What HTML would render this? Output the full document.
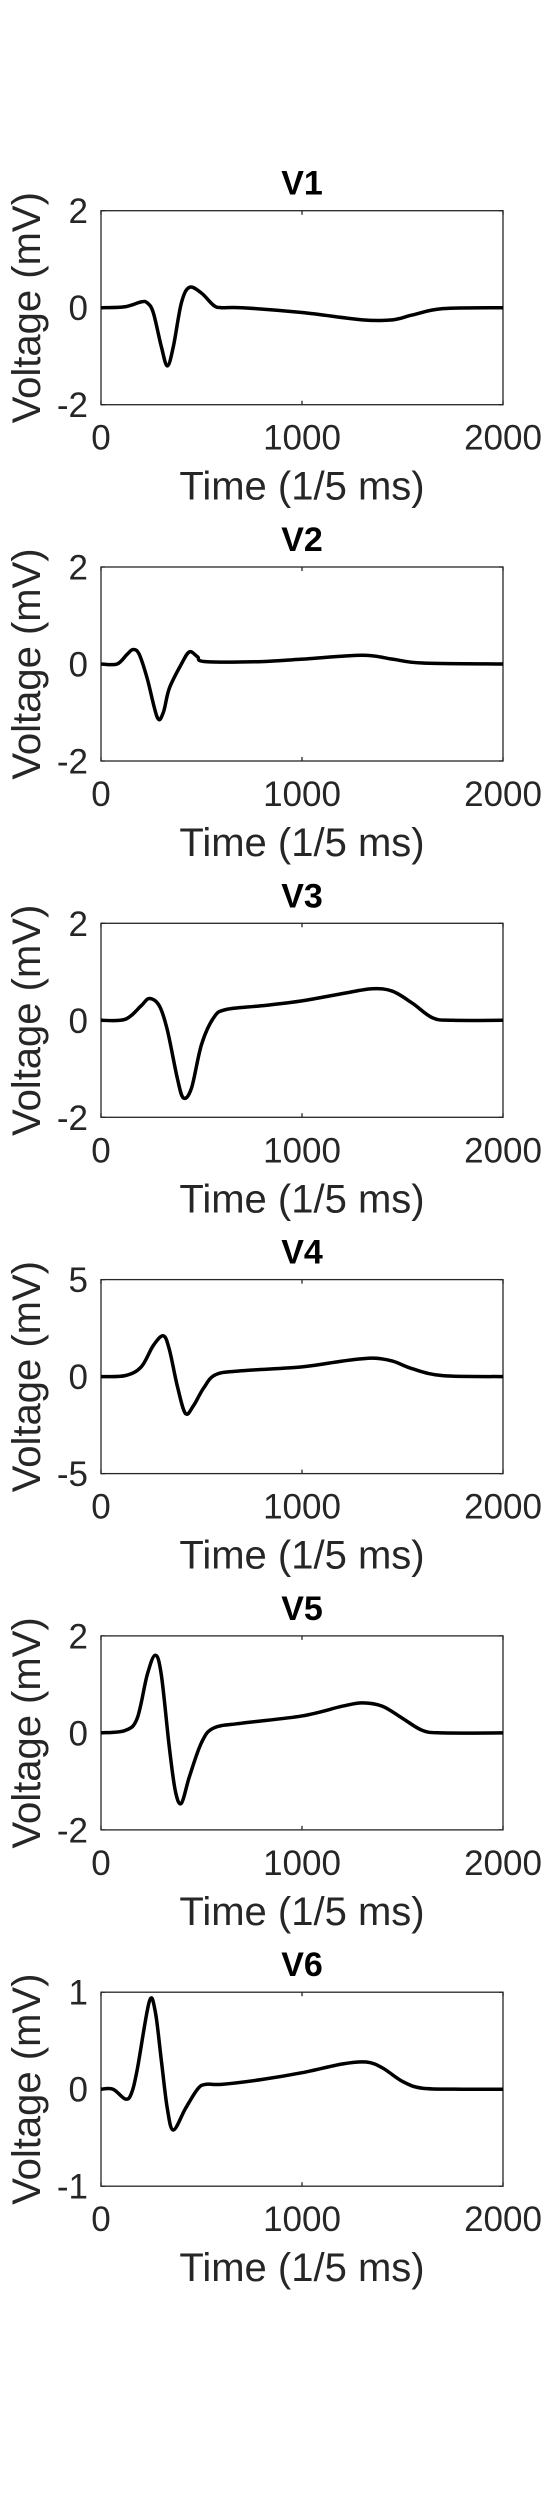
<!DOCTYPE html>
<html><head><meta charset="utf-8"><style>
html,body{margin:0;padding:0;background:#fff;}
svg{display:block;}
text{font-family:"Liberation Sans",sans-serif;fill:#262626;}
</style></head><body>
<svg id="fig" width="556" height="2502" viewBox="0 0 556 2502" xmlns="http://www.w3.org/2000/svg"></svg>
<script>
const leads = ["V1","V2","V3","V4","V5","V6"];
const yLimits = [2,2,2,5,2,1];
const xTicks = [0,1000,2000];
const v1x = [0,120,200,230,260,300,330,360,400,440,500,560,600,700,1000,1300,1450,1550,1700,2000];
const v1y = [0,0.02,0.12,0.1,-0.1,-0.8,-1.2,-0.8,0.1,0.42,0.3,0.05,0,0,-0.1,-0.25,-0.25,-0.15,-0.02,0];
const v2x = [0,80,130,160,190,230,280,310,340,400,440,480,520,800,1000,1300,1450,1600,2000];
const v2y = [0,0,0.2,0.3,0.2,-0.3,-1.1,-1.0,-0.5,0,0.25,0.15,0.05,0.05,0.1,0.18,0.1,0.02,0];
const v3x = [0,120,200,240,290,330,380,410,450,500,560,620,800,1000,1200,1350,1450,1550,1650,1750,2000];
const v3y = [0,0.02,0.3,0.45,0.3,-0.2,-1.2,-1.6,-1.4,-0.5,0.05,0.22,0.3,0.4,0.55,0.65,0.6,0.35,0.05,0,0];
const v4x = [0,120,200,260,310,340,380,420,460,510,570,700,1000,1200,1350,1450,1550,1700,2000];
const v4y = [0,0.05,0.5,1.6,2.1,1.4,-0.5,-1.9,-1.5,-0.6,0.1,0.3,0.5,0.8,0.95,0.8,0.4,0.05,0];
const v5x = [0,120,180,230,270,300,340,370,400,440,500,560,700,1000,1200,1300,1400,1500,1600,1700,2000];
const v5y = [0,0.05,0.3,1.2,1.6,1.2,-0.3,-1.2,-1.45,-0.9,-0.2,0.1,0.2,0.35,0.55,0.62,0.55,0.3,0.05,0,0];
const v6x = [0,60,120,150,180,240,270,300,330,360,420,480,520,600,800,1000,1200,1320,1400,1500,1600,1800,2000];
const v6y = [0,0,-0.1,-0.05,0.2,0.9,0.8,0.3,-0.2,-0.42,-0.2,0,0.05,0.05,0.1,0.17,0.26,0.28,0.22,0.08,0.01,0,0];
const seriesX = [v1x,v2x,v3x,v4x,v5x,v6x];
const seriesY = [v1y,v2y,v3y,v4y,v5y,v6y];

const NS="http://www.w3.org/2000/svg";
const svg=document.getElementById('fig');
const L=101,R=503,H=194,TOP0=210.7,STEP=356.3;
function mk(tag,attrs,parent){const e=document.createElementNS(NS,tag);for(const k in attrs)e.setAttribute(k,attrs[k]);parent.appendChild(e);return e;}
leads.forEach((name,i)=>{
  const top=TOP0+i*STEP, bot=top+H, lim=yLimits[i];
  const xs=v=>L+(v-0)/2000*(R-L);
  const ys=v=>bot-(v+lim)/(2*lim)*H;
  const g=mk('g',{},svg);
  
  
  const t=mk('text',{x:(L+R)/2,y:top-16,'text-anchor':'middle','font-size':34,'font-weight':'bold'},g);
  
  
  t.style.fill='#000';t.textContent=name;
  const box=mk('rect',{x:L,y:top,width:R-L,height:H,fill:'none',stroke:'#262626','stroke-width':1.3},g);
  
  
  xTicks.forEach(v=>{
    const x=xs(v);
    const tk=mk('path',{d:`M${x} ${bot}v-4M${x} ${top}v4`,stroke:'#262626','stroke-width':1.3},g);
    
    
    const tl=mk('text',{x:x,y:bot+45,'text-anchor':'middle','font-size':35},g);
    
    
    tl.textContent=v;
  });
  [-lim,0,lim].forEach(v=>{
    const y=ys(v);
    const tk=mk('path',{d:`M${L} ${y}h4M${R} ${y}h-4`,stroke:'#262626','stroke-width':1.3},g);
    
    
    const tl=mk('text',{x:88,y:y+12.5,'text-anchor':'end','font-size':35},g);
    
    
    tl.textContent=v;
  });
  const xl=mk('text',{x:(L+R)/2,y:bot+95,'text-anchor':'middle','font-size':40},g);
  
  
  xl.textContent='Time (1/5 ms)';
  const cy=top+H/2;
  const yl=mk('text',{x:40,y:cy,'text-anchor':'middle','font-size':40,transform:`rotate(-90 40 ${cy})`},g);
  
  
  yl.textContent='Voltage (mV)';
  const X=seriesX[i],Y=seriesY[i];
  const P=X.map((v,k)=>[xs(v),ys(Y[k])]);
  let d=`M${P[0][0]} ${P[0][1]}`;
  for(let k=0;k<P.length-1;k++){
    const p0=P[Math.max(0,k-1)],p1=P[k],p2=P[k+1],p3=P[Math.min(P.length-1,k+2)];
    const c1=[p1[0]+(p2[0]-p0[0])/6,p1[1]+(p2[1]-p0[1])/6];
    const c2=[p2[0]-(p3[0]-p1[0])/6,p2[1]-(p3[1]-p1[1])/6];
    d+=`C${c1[0]} ${c1[1]} ${c2[0]} ${c2[1]} ${p2[0]} ${p2[1]}`;
  }
  const line=mk('path',{d:d,fill:'none',stroke:'#000','stroke-width':3.5,'stroke-linejoin':'round'},g);
  
  
});
</script>
</body></html>
